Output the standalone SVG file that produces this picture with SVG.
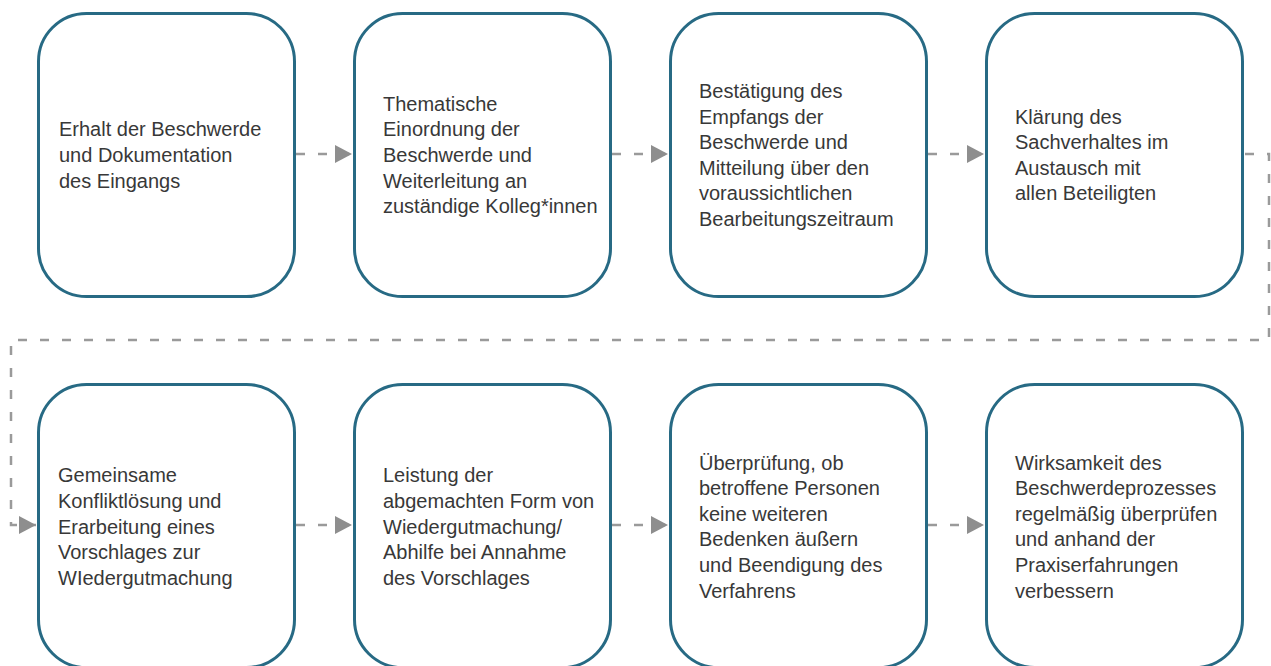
<svg xmlns="http://www.w3.org/2000/svg" width="1271" height="666" viewBox="0 0 1271 666">
<style>
.node rect{fill:#ffffff;stroke:#276a84;stroke-width:3}
.node text{font-family:"Liberation Sans",Arial,sans-serif;font-size:20px;fill:#383838}
.conn path{fill:none;stroke:#9a9a9a;stroke-width:2.5;stroke-dasharray:9 13;marker-end:url(#arr)}
</style>
<defs>
<marker id="arr" markerUnits="userSpaceOnUse" markerWidth="17" markerHeight="18" refX="17" refY="9" orient="auto" viewBox="0 0 17 18">
<path d="M0,0 L17,9 L0,18 z" fill="#8e8e8e"/>
</marker>
</defs>
<rect width="1271" height="666" fill="#ffffff"/>
<g id="connectors" class="conn">
<path d="M296,154 H352"/>
<path d="M612,154 H668"/>
<path d="M928,154 H984"/>
<path d="M1245,154 H1269 V340 H11 V525 H36"/>
<path d="M296,525 H352"/>
<path d="M612,525 H668"/>
<path d="M928,525 H984"/>
</g>
<g id="node1" class="node">
<rect x="38.5" y="13.5" width="256" height="283" rx="48"/>
<text x="59" y="136.4"><tspan x="59">Erhalt der Beschwerde</tspan><tspan x="59" dy="25.6">und Dokumentation</tspan><tspan x="59" dy="25.6">des Eingangs</tspan></text>
</g>
<g id="node2" class="node">
<rect x="354.5" y="13.5" width="256" height="283" rx="48"/>
<text x="383" y="110.8"><tspan x="383">Thematische</tspan><tspan x="383" dy="25.6">Einordnung der</tspan><tspan x="383" dy="25.6">Beschwerde und</tspan><tspan x="383" dy="25.6">Weiterleitung an</tspan><tspan x="383" dy="25.6">zuständige Kolleg*innen</tspan></text>
</g>
<g id="node3" class="node">
<rect x="670.5" y="13.5" width="256" height="283" rx="48"/>
<text x="699" y="98"><tspan x="699">Bestätigung des</tspan><tspan x="699" dy="25.6">Empfangs der</tspan><tspan x="699" dy="25.6">Beschwerde und</tspan><tspan x="699" dy="25.6">Mitteilung über den</tspan><tspan x="699" dy="25.6">voraussichtlichen</tspan><tspan x="699" dy="25.6">Bearbeitungszeitraum</tspan></text>
</g>
<g id="node4" class="node">
<rect x="986.5" y="13.5" width="256" height="283" rx="48"/>
<text x="1015" y="123.6"><tspan x="1015">Klärung des</tspan><tspan x="1015" dy="25.6">Sachverhaltes im</tspan><tspan x="1015" dy="25.6">Austausch mit</tspan><tspan x="1015" dy="25.6">allen Beteiligten</tspan></text>
</g>
<g id="node5" class="node">
<rect x="38.5" y="384.5" width="256" height="283" rx="48"/>
<text x="58" y="482.3"><tspan x="58">Gemeinsame</tspan><tspan x="58" dy="25.6">Konfliktlösung und</tspan><tspan x="58" dy="25.6">Erarbeitung eines</tspan><tspan x="58" dy="25.6">Vorschlages zur</tspan><tspan x="58" dy="25.6">WIedergutmachung</tspan></text>
</g>
<g id="node6" class="node">
<rect x="354.5" y="384.5" width="256" height="283" rx="48"/>
<text x="383" y="482.3"><tspan x="383">Leistung der</tspan><tspan x="383" dy="25.6">abgemachten Form von</tspan><tspan x="383" dy="25.6">Wiedergutmachung/</tspan><tspan x="383" dy="25.6">Abhilfe bei Annahme</tspan><tspan x="383" dy="25.6">des Vorschlages</tspan></text>
</g>
<g id="node7" class="node">
<rect x="670.5" y="384.5" width="256" height="283" rx="48"/>
<text x="699" y="469.5"><tspan x="699">Überprüfung, ob</tspan><tspan x="699" dy="25.6">betroffene Personen</tspan><tspan x="699" dy="25.6">keine weiteren</tspan><tspan x="699" dy="25.6">Bedenken äußern</tspan><tspan x="699" dy="25.6">und Beendigung des</tspan><tspan x="699" dy="25.6">Verfahrens</tspan></text>
</g>
<g id="node8" class="node">
<rect x="986.5" y="384.5" width="256" height="283" rx="48"/>
<text x="1015" y="469.5"><tspan x="1015">Wirksamkeit des</tspan><tspan x="1015" dy="25.6">Beschwerdeprozesses</tspan><tspan x="1015" dy="25.6">regelmäßig überprüfen</tspan><tspan x="1015" dy="25.6">und anhand der</tspan><tspan x="1015" dy="25.6">Praxiserfahrungen</tspan><tspan x="1015" dy="25.6">verbessern</tspan></text>
</g>
</svg>
